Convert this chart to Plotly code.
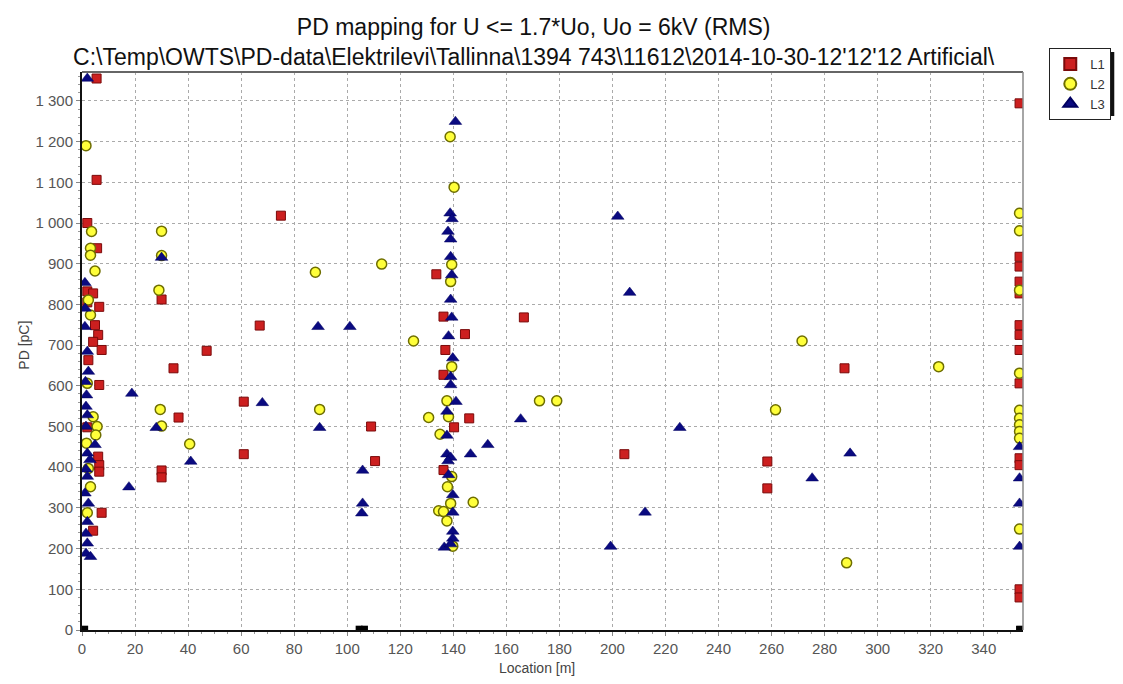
import plotly.graph_objects as go

# ---- PD events per phase: location [m], discharge level [pC] ----
L1_LOC = [5.5, 5.5, 2, 5.7, 2, 4.2, 2, 6.5, 4.9, 6.1, 4.2, 7.4, 2.4, 6.5, 2, 6.1, 6.5, 6.5, 7.4, 4.2,
          30, 75, 67, 47, 34.5, 61, 36.4, 109, 61, 110.5, 30, 30, 166.6, 287.5, 204.5, 258.4, 258.4,
          133.6, 136.3, 144.4, 137, 136.3, 146, 140.3, 136.3,
          353.5, 353.5, 353.5, 353.5, 353.5, 353.5, 353.5, 353.5, 353.5, 353.5, 353.5, 353.5, 353.5]
L1_PD = [1355, 1106, 1000, 938, 832, 827, 805, 794, 749, 725, 708, 688, 663, 602, 498, 426, 405, 389, 288, 244,
         812, 1018, 748, 686, 643, 561, 522, 500, 432, 415, 392, 375, 768, 643, 432, 414, 348,
         874, 770, 727, 688, 627, 520, 498, 393,
         1294, 917, 893, 856, 827, 749, 725, 688, 606, 422, 405, 100, 80]

L2_LOC = [1.5, 3.6, 3.2, 3.2, 4.9, 2.4, 3.2, 2, 4.2, 5.7, 5.2, 1.7, 2.4, 3.2, 2,
          30, 30, 29, 88, 113, 125, 29.5, 89.6, 30, 40.6, 271.5, 323, 172.5, 179, 261.5, 147.5, 288.3,
          138.8, 140.3, 139.4, 139, 139.4, 137.6, 130.7, 138.2, 135, 139.4, 137.8, 139, 134.5, 136.3,
          137.6, 139.8,
          353.5, 353.5, 353.5, 353.5, 353.5, 353.5, 353.5, 353.5, 353.5, 353.5]
L2_PD = [1190, 979, 938, 921, 882, 811, 774, 606, 524, 500, 479, 459, 397, 352, 288,
         980, 920, 835, 879, 899, 710, 542, 542, 501, 457, 710, 647, 563, 563, 541, 314, 165,
         1212, 1088, 898, 856, 647, 563, 522, 524, 481, 377, 352, 311, 293, 291,
         268, 206,
         1024, 981, 835, 631, 540, 520, 504, 488, 471, 248]

L3_LOC = [2, 1.1, 1.2, 1.1, 2, 2.4, 1.3, 1.7, 1.5, 2, 1.5, 4.9, 2, 3, 1.5, 2, 1.1, 2.4, 2, 1.5, 2, 1.5, 3.2,
          30, 18.8, 68, 28, 89.6, 41, 105.8, 17.7, 105.8, 105.5, 89, 101, 202, 206.5, 165.4, 225.4, 153,
          289.6, 275.3, 212.3, 199.3,
          140.8, 138.8, 139.5, 138, 139, 139, 139.4, 139, 139.4, 138.2, 139.8, 139, 139, 141, 137.6, 137.6,
          146.5, 137.6, 139, 138, 138.2, 139.8, 139.8, 139.8, 139.8, 136.6, 139,
          353.5, 353.5, 353.5, 353.5]
L3_PD = [1355, 853, 790, 745, 684, 635, 610, 577, 549, 528, 500, 455, 434, 418, 395, 377, 336, 311, 266, 237, 213, 188, 180,
         915, 581, 558, 497, 497, 414, 392, 351, 311, 287, 745, 745, 1016, 829, 518, 497, 455,
         434, 373, 289, 205,
         1249, 1024, 1010, 979, 960, 917, 872, 812, 768, 722, 668, 622, 602, 561, 537, 478,
         432, 432, 424, 415, 381, 332, 289, 242, 225, 203, 211,
         450, 373, 311, 205]

# cable ends / joint markers on the zero line
MARK_LOC = [1, 104.5, 106.5, 353.5]
MARK_PD = [2, 2, 2, 2]

# ---- axis ticks ----
X_TICKS = list(range(0, 341, 20))
Y_TICKS = list(range(0, 1301, 100))
Y_TICK_TEXT = ["0", "100", "200", "300", "400", "500", "600", "700", "800", "900",
               "1 000", "1 100", "1 200", "1 300"]

TITLE = ("PD mapping for U &lt;= 1.7*Uo, Uo = 6kV (RMS)<br>"
         "C:\\Temp\\OWTS\\PD-data\\Elektrilevi\\Tallinna\\1394 743\\11612\\2014-10-30-12'12'12 Artificial\\")

fig = go.Figure()

fig.add_trace(go.Scatter(
    x=MARK_LOC, y=MARK_PD, mode="markers", showlegend=False, hoverinfo="skip",
    marker=dict(symbol="square", size=7, color="black"),
))
fig.add_trace(go.Scatter(
    x=L1_LOC, y=L1_PD, mode="markers", name="L1",
    marker=dict(symbol="square", size=9, color="#CC1F1F", line=dict(color="#7A0A0A", width=1)),
))
fig.add_trace(go.Scatter(
    x=L2_LOC, y=L2_PD, mode="markers", name="L2",
    marker=dict(symbol="circle", size=10, color="#FFFF3A", line=dict(color="#6E6E00", width=1.5)),
))
fig.add_trace(go.Scatter(
    x=L3_LOC, y=L3_PD, mode="markers", name="L3",
    marker=dict(symbol="triangle-up", size=11, color="#0A0A80", line=dict(color="#000060", width=0.5)),
))

grid = dict(gridcolor="#AAAAAA", griddash="3px,3px", gridwidth=1)

fig.update_layout(
    width=1123, height=684,
    margin=dict(l=82, r=92, t=72, b=54),
    paper_bgcolor="white", plot_bgcolor="white",
    font=dict(family="Liberation Sans, Arial, sans-serif", size=15, color="#555555"),
    title=dict(text=TITLE, x=0.48, xref="paper", xanchor="center",
               yref="container", y=0.949, yanchor="middle",
               font=dict(size=23, color="#111111")),
    xaxis=dict(range=[0, 354.8], tickmode="array", tickvals=X_TICKS, showgrid=True, **grid,
               zeroline=False, showline=True, linecolor="#111111", linewidth=2,
               ticks="outside", ticklen=4, tickcolor="#888888",
               minor=dict(dtick=5, ticks="outside", ticklen=2, tickcolor="#999999")),
    yaxis=dict(range=[0, 1371], tickmode="array", tickvals=Y_TICKS, ticktext=Y_TICK_TEXT,
               showgrid=True, **grid,
               zeroline=False, showline=True, linecolor="#111111", linewidth=2,
               ticks="outside", ticklen=4, tickcolor="#888888",
               minor=dict(dtick=20, ticks="outside", ticklen=2, tickcolor="#999999")),
    legend=dict(x=1.0938, y=1.043, xanchor="right", yanchor="top",
                bgcolor="white", bordercolor="#222222", borderwidth=1,
                font=dict(size=13, color="#333333"), tracegroupgap=0,
                itemsizing="constant", itemwidth=30),
    showlegend=True,
)

# top/right frame of the plotting area
fig.add_shape(type="line", xref="paper", yref="paper", x0=0, x1=1, y0=1, y1=1,
              line=dict(color="#666666", width=2))
fig.add_shape(type="line", xref="paper", yref="paper", x0=1, x1=1, y0=0, y1=1,
              line=dict(color="#888888", width=1.5))
# legend drop shadow
fig.add_shape(type="rect", xref="paper", yref="paper",
              x0=1.040, x1=1.097, y0=0.921, y1=1.036,
              fillcolor="#111111", line=dict(width=0), layer="below")

fig.add_annotation(text="PD [pC]", xref="paper", yref="paper", x=-0.072, y=0.51,
                   textangle=-90, showarrow=False, font=dict(size=14, color="#444444"))
fig.add_annotation(text="Location [m]", xref="paper", yref="paper", x=0.483, y=-0.068,
                   yanchor="middle", showarrow=False, font=dict(size=14, color="#444444"))

fig.write_html("out.html")
